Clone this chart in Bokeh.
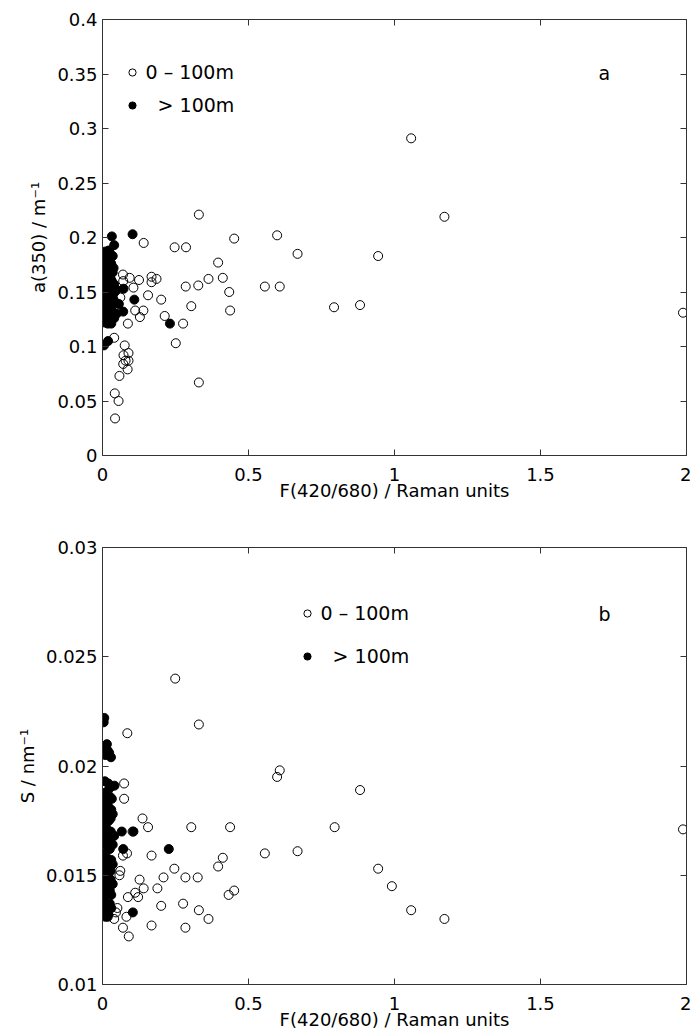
from bokeh.plotting import figure
from bokeh.layouts import column
from bokeh.models import (Range1d, LinearAxis, FixedTicker, CustomJSTickFormatter,
                          Legend, LegendItem, Label)
from bokeh.embed import file_html
from bokeh.resources import INLINE

# ---------------- data ----------------
# panel a : a(350) vs F(420/680)
a_shallow_x = [1.057, 1.171, 0.330, 0.141, 0.247, 0.286, 0.451, 0.598, 0.668, 0.944,
               0.396, 0.412, 0.363, 0.434, 0.437, 0.328, 0.285, 0.556, 0.607, 0.304,
               0.276, 0.251, 0.330, 0.793, 0.882, 1.988, 0.213, 0.201, 0.185, 0.168,
               0.168, 0.156, 0.125, 0.128, 0.140, 0.112, 0.106, 0.093, 0.070, 0.071,
               0.087, 0.061, 0.040, 0.076, 0.089, 0.072, 0.079, 0.089, 0.071, 0.086,
               0.058, 0.042, 0.055, 0.043]
a_shallow_y = [0.291, 0.219, 0.221, 0.195, 0.191, 0.191, 0.199, 0.202, 0.185, 0.183,
               0.177, 0.163, 0.162, 0.150, 0.133, 0.156, 0.155, 0.155, 0.155, 0.137,
               0.121, 0.103, 0.067, 0.136, 0.138, 0.131, 0.128, 0.143, 0.162, 0.164,
               0.159, 0.147, 0.161, 0.127, 0.133, 0.133, 0.154, 0.163, 0.166, 0.160,
               0.121, 0.145, 0.108, 0.101, 0.094, 0.092, 0.087, 0.087, 0.084, 0.079,
               0.073, 0.057, 0.050, 0.034]
a_deep_x = [0.032, 0.103, 0.040, 0.020, 0.008, 0.015, 0.025, 0.005, 0.030, 0.012,
            0.002, 0.020, 0.035, 0.008, 0.015, 0.028, 0.003, 0.022, 0.040, 0.010,
            0.030, 0.048, 0.072, 0.005, 0.018, 0.035, 0.012, 0.025, 0.002, 0.045,
            0.056, 0.109, 0.015, 0.030, 0.008, 0.020, 0.038, 0.048, 0.071, 0.003,
            0.015, 0.025, 0.030, 0.008, 0.231, 0.019, 0.005,
            0.025, 0.035, 0.010, 0.038, 0.025, 0.005, 0.032, 0.015, 0.042, 0.028,
            0.008, 0.038, 0.018, 0.035, 0.012, 0.028, 0.040, 0.018, 0.004, 0.003]
a_deep_y = [0.201, 0.203, 0.193, 0.188, 0.187, 0.183, 0.180, 0.178, 0.176, 0.174,
            0.172, 0.170, 0.168, 0.166, 0.163, 0.162, 0.160, 0.158, 0.157, 0.155,
            0.153, 0.152, 0.153, 0.150, 0.148, 0.147, 0.145, 0.143, 0.141, 0.140,
            0.139, 0.143, 0.138, 0.136, 0.134, 0.132, 0.131, 0.130, 0.132, 0.128,
            0.126, 0.124, 0.121, 0.122, 0.121, 0.105, 0.101,
            0.186, 0.183, 0.181, 0.172, 0.168, 0.164, 0.160, 0.156, 0.150, 0.149,
            0.147, 0.143, 0.140, 0.138, 0.130, 0.128, 0.126, 0.121, 0.135, 0.155]

# panel b : S vs F(420/680)
s_shallow_x = [0.249, 0.330, 0.085, 0.074, 0.074, 0.137, 0.156, 0.304, 0.437, 0.795,
               1.988, 0.882, 0.598, 0.607, 0.103, 0.032, 0.070, 0.084, 0.168, 0.412,
               0.396, 0.668, 0.556, 0.944, 0.991, 1.057, 1.171, 0.432, 0.451, 0.246,
               0.284, 0.326, 0.209, 0.061, 0.058, 0.127, 0.141, 0.188, 0.112, 0.087,
               0.122, 0.201, 0.276, 0.330, 0.363, 0.168, 0.284, 0.070, 0.090, 0.082,
               0.051, 0.046, 0.040]
s_shallow_y = [0.0240, 0.0219, 0.0215, 0.0192, 0.0185, 0.0176, 0.0172, 0.0172, 0.0172, 0.0172,
               0.0171, 0.0189, 0.0195, 0.0198, 0.0170, 0.0169, 0.0159, 0.0160, 0.0159, 0.0158,
               0.0154, 0.0161, 0.0160, 0.0153, 0.0145, 0.0134, 0.0130, 0.0141, 0.0143, 0.0153,
               0.0149, 0.0149, 0.0149, 0.0152, 0.0150, 0.0148, 0.0144, 0.0144, 0.0142, 0.0140,
               0.0140, 0.0136, 0.0137, 0.0134, 0.0130, 0.0127, 0.0126, 0.0126, 0.0122, 0.0131,
               0.0135, 0.0133, 0.0130]
s_deep_x = [0.006, 0.004, 0.012, 0.018, 0.023, 0.029, 0.015, 0.008, 0.020, 0.041,
            0.012, 0.025, 0.005, 0.018, 0.030, 0.035, 0.010, 0.022, 0.003, 0.015,
            0.028, 0.066, 0.106, 0.008, 0.020, 0.035, 0.071, 0.227, 0.005, 0.015,
            0.030, 0.010, 0.022, 0.003, 0.018, 0.028, 0.008, 0.020, 0.012, 0.030,
            0.004, 0.025, 0.015, 0.006, 0.020, 0.104, 0.010,
            0.010, 0.025, 0.032, 0.008, 0.028, 0.014, 0.040, 0.025, 0.010, 0.035,
            0.028, 0.012, 0.035, 0.025, 0.010, 0.030, 0.018, 0.003, 0.003]
s_deep_y = [0.0222, 0.0220, 0.0209, 0.0207, 0.0206, 0.0204, 0.0210, 0.0193, 0.0192, 0.0191,
            0.0188, 0.0186, 0.0184, 0.0182, 0.0180, 0.0178, 0.0177, 0.0175, 0.0173, 0.0171,
            0.0170, 0.0170, 0.0170, 0.0168, 0.0166, 0.0164, 0.0162, 0.0162, 0.0160, 0.0158,
            0.0157, 0.0155, 0.0153, 0.0151, 0.0150, 0.0148, 0.0146, 0.0144, 0.0142, 0.0141,
            0.0139, 0.0137, 0.0135, 0.0133, 0.0132, 0.0133, 0.0131,
            0.0205, 0.0190, 0.0185, 0.0180, 0.0176, 0.0174, 0.0168, 0.0162, 0.0164, 0.0155,
            0.0152, 0.0148, 0.0146, 0.0143, 0.0137, 0.0135, 0.0131, 0.0157, 0.0145]

x_ticks = [0, 0.5, 1, 1.5, 2]
a_ticks = [0, 0.05, 0.1, 0.15, 0.2, 0.25, 0.3, 0.35, 0.4]
s_ticks = [0.01, 0.015, 0.02, 0.025, 0.03]

x_label = "F(420/680) / Raman units"
legend_labels = ["0 \u2013 100m", "\u00a0\u00a0> 100m"]

# ---------------- style ----------------
FONT = "DejaVu Sans"
AX_COLOR = "#333333"
FMT = CustomJSTickFormatter(code="return String(tick)")
BLANK = CustomJSTickFormatter(code="return ''")


def style_axis(ax, ticks, labels=True):
    ax.ticker = FixedTicker(ticks=ticks)
    ax.axis_line_color = AX_COLOR
    ax.major_tick_line_color = AX_COLOR
    ax.major_tick_in = 6
    ax.major_tick_out = 0
    ax.minor_tick_line_color = None
    ax.major_label_text_font = FONT
    ax.major_label_text_color = "black"
    ax.major_label_text_font_size = "18px"
    ax.axis_label_text_font = FONT
    ax.axis_label_text_font_style = "normal"
    ax.axis_label_text_font_size = "18px"
    ax.axis_label_text_color = "black"
    if labels:
        ax.formatter = FMT
    else:
        ax.formatter = BLANK
        ax.major_label_standoff = 0


def make_panel(xs_o, ys_o, xs_f, ys_f, yr, yticks, ylabel, top_border,
               frame_h, bottom_border, leg_loc, leg_spacing, letter, letter_xy):
    p = figure(frame_width=584, frame_height=frame_h,
               x_range=Range1d(0, 2), y_range=Range1d(*yr),
               output_backend="svg", toolbar_location=None,
               min_border_left=102, min_border_right=5,
               min_border_top=top_border, min_border_bottom=bottom_border,
               background_fill_color="white", border_fill_color="white")
    p.outline_line_color = None
    p.xgrid.visible = False
    p.ygrid.visible = False

    xa = p.xaxis[0]
    style_axis(xa, x_ticks)
    xa.axis_label = x_label
    xa.major_label_standoff = 12
    xa.axis_label_standoff = -4

    ya = p.yaxis[0]
    style_axis(ya, yticks)
    ya.axis_label = ylabel
    ya.major_label_standoff = 5
    ya.axis_label_standoff = 5

    ax_top = LinearAxis()
    style_axis(ax_top, x_ticks, labels=False)
    p.add_layout(ax_top, "above")
    ax_right = LinearAxis()
    style_axis(ax_right, yticks, labels=False)
    p.add_layout(ax_right, "right")

    r_o = p.scatter(xs_o, ys_o, marker="circle", size=9, fill_color=None,
                    line_color="black", line_width=1)
    r_f = p.scatter(xs_f, ys_f, marker="circle", size=9, fill_color="black",
                    line_color="black", line_width=1)

    leg = Legend(items=[LegendItem(label=legend_labels[0], renderers=[r_o]),
                        LegendItem(label=legend_labels[1], renderers=[r_f])],
                 location=leg_loc, orientation="vertical",
                 padding=0, margin=0, spacing=leg_spacing,
                 glyph_width=18, glyph_height=18, label_standoff=5,
                 label_text_font=FONT, label_text_font_size="19px",
                 label_text_color="black", label_height=18,
                 border_line_color=None, background_fill_alpha=0)
    p.add_layout(leg)

    p.add_layout(Label(x=letter_xy[0], y=letter_xy[1], text=letter,
                       text_font=FONT, text_font_size="19px",
                       text_baseline="middle", text_align="left",
                       text_color="black"))
    return p


p1 = make_panel(a_shallow_x, a_shallow_y, a_deep_x, a_deep_y, (0, 0.4), a_ticks,
                "a(350) / m\u207b\u00b9", 19, 436, 45, (20.5, 339), 11, "a", (1.699, 0.3505))
p2 = make_panel(s_shallow_x, s_shallow_y, s_deep_x, s_deep_y, (0.01, 0.03), s_ticks,
                "S / nm\u207b\u00b9", 44, 437, 53, (195.5, 317), 21, "b", (1.699, 0.02695))

layout = column(p1, p2, spacing=0)
open("out.html", "w").write(file_html(layout, INLINE))
